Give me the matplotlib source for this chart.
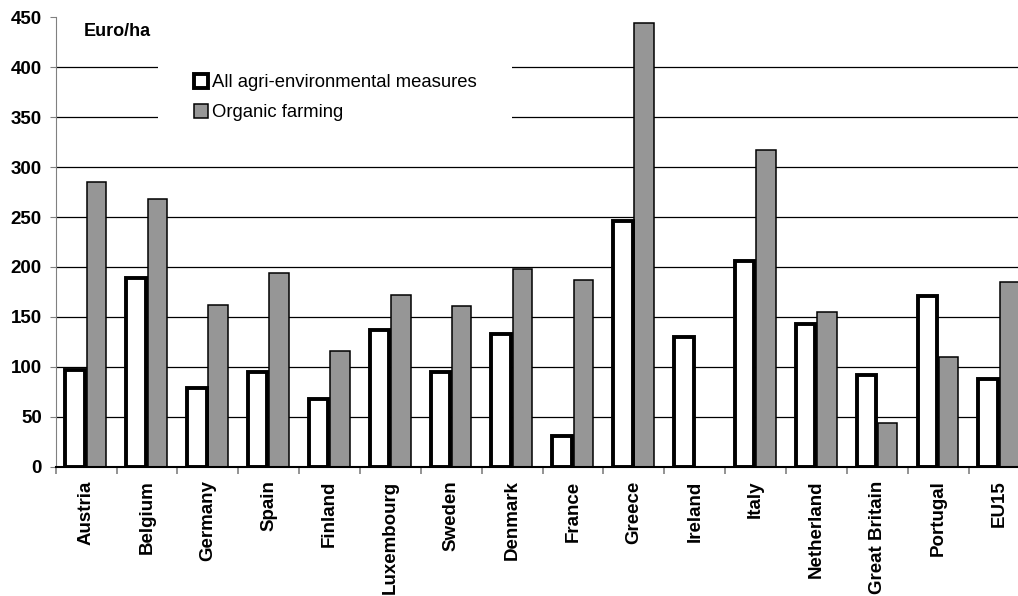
import matplotlib.pyplot as plt
import numpy as np

plt.rcParams['font.family'] = ['Liberation Sans', 'DejaVu Sans']

# data
countries = ['Austria', 'Belgium', 'Germany', 'Spain', 'Finland', 'Luxembourg',
             'Sweden', 'Denmark', 'France', 'Greece', 'Ireland', 'Italy',
             'Netherland', 'Great Britain', 'Portugal', 'EU15']
all_agri = [97, 189, 79, 95, 68, 137, 95, 133, 31, 246, 130, 206, 143, 92, 171, 88]
organic = [285, 268, 162, 194, 116, 172, 161, 198, 187, 444, 0, 317, 155, 44, 110, 185]

fig = plt.figure(figsize=(10.18, 5.96), dpi=100)
ax = fig.add_axes([0.0547, 0.2169, 0.9566, 0.7541])

x = np.arange(len(countries))
ax.bar(x + 0.17, organic, width=0.32, color='#969696', edgecolor='black',
       linewidth=1.1, label='Organic farming', zorder=2)
ax.bar(x - 0.18, all_agri, width=0.32, color='white', edgecolor='black',
       linewidth=2.8, label='All agri-environmental measures', zorder=3)

ax.set_xlim(-0.5, len(countries) - 0.5)
ax.set_ylim(0, 450)
ax.set_yticks(np.arange(0, 451, 50))
ax.yaxis.grid(True, color='black', linewidth=0.9)
ax.yaxis.get_gridlines()[-1].set_visible(False)
ax.set_axisbelow(True)

ax.set_xticks(x)
ax.set_xticklabels(countries, rotation=90, fontsize=13.5, fontweight='bold', va='top')
ax.tick_params(axis='x', which='major', length=0, pad=10)
ax.set_xticks(np.arange(-0.5, len(countries)), minor=True)
ax.tick_params(axis='x', which='minor', length=5, color='#808080', width=1.2)
ax.tick_params(axis='y', length=4, color='#808080', pad=6, labelsize=13.5)
for t in ax.get_yticklabels():
    t.set_fontweight('bold')

ax.spines['top'].set_visible(False)
ax.spines['right'].set_visible(False)
ax.spines['left'].set_color('#808080')
ax.spines['bottom'].set_color('black')
ax.spines['bottom'].set_linewidth(1.5)

ax.text(0.029, 0.988, 'Euro/ha', transform=ax.transAxes, fontsize=13,
        fontweight='bold', va='top', ha='left')

h, l = ax.get_legend_handles_labels()
leg = ax.legend(h[::-1], l[::-1], loc='upper left', bbox_to_anchor=(158 / 1018, 1 - 38 / 596),
                bbox_transform=fig.transFigure, fontsize=13.3, frameon=True,
                fancybox=False, edgecolor='none', facecolor='white', framealpha=1,
                handlelength=0.75, handleheight=0.75, handletextpad=0.2,
                borderpad=1.95, borderaxespad=0, labelspacing=0.7)
leg.get_frame().set_linewidth(0)
leg.set_zorder(5)

fig.savefig('out.png', dpi=100)
